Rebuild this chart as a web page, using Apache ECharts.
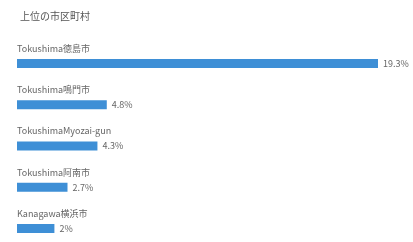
<!DOCTYPE html>
<html lang="ja" style="height: 100%;width: 100%">
<head>
    <meta charset="utf-8">
</head>
<body style="height: 100%;width: 100%; margin: 0; background: #fff; overflow: hidden">
<div id="container" style="height: 252px;width: 413px;"></div>
<script type="text/javascript" src="https://cdn.jsdelivr.net/npm/echarts@6/dist/echarts.min.js"></script>
<script type="text/javascript">
    var title = '上位の市区町村';
    var cities = ['Tokushima徳島市', 'Tokushima鳴門市', 'TokushimaMyozai-gun', 'Tokushima阿南市', 'Kanagawa横浜市'];
    var shares = [19.3, 4.8, 4.3, 2.7, 2];

    var myChart = echarts.init(document.getElementById('container'), null, {renderer: 'canvas'});

    var option = {
        animation: false,
        title: {
            text: title,
            left: 15,
            top: 6,
            textStyle: {
                fontSize: 10,
                fontWeight: 'normal',
                color: '#555',
                fontFamily: 'Noto Sans CJK JP'
            }
        },
        grid: {
            left: 17,
            right: 35,
            top: 43,
            height: 206
        },
        xAxis: {
            type: 'value',
            min: 0,
            max: 19.3,
            show: false
        },
        yAxis: {
            type: 'category',
            inverse: true,
            data: cities,
            show: false
        },
        series: [
            {
                // 棒と数値
                type: 'bar',
                data: shares,
                barWidth: 9,
                itemStyle: {color: '#3e8fd6'},
                label: {
                    show: true,
                    position: 'right',
                    distance: 5,
                    formatter: '{c}%',
                    fontSize: 9,
                    color: '#666',
                    fontFamily: 'Noto Sans CJK JP'
                }
            },
            {
                // 市区町村名（棒の上）
                type: 'bar',
                data: shares,
                barWidth: 9,
                barGap: '-100%',
                itemStyle: {color: 'rgba(0,0,0,0)'},
                silent: true,
                label: {
                    show: true,
                    position: [0, -15],
                    formatter: '{b}',
                    fontSize: 9,
                    color: '#666',
                    fontFamily: 'Noto Sans CJK JP'
                }
            }
        ]
    };
    myChart.setOption(option);
</script>
</body>
</html>
